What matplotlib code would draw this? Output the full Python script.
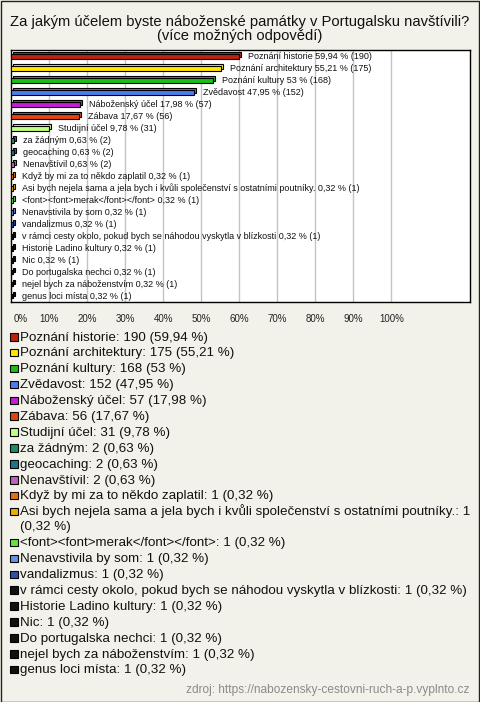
import numpy as np
import matplotlib
matplotlib.use('Agg')
from matplotlib import pyplot as plt
from matplotlib.transforms import offset_copy, ScaledTranslation

plt.rcParams['font.family'] = ['Liberation Sans', 'DejaVu Sans']

title = 'Za jakým účelem byste náboženské památky v Portugalsku navštívili?\n(více možných odpovědí)'
source = 'zdroj: https://nabozensky-cestovni-ruch-a-p.vyplnto.cz'

labels = ['Poznání historie', 'Poznání architektury', 'Poznání kultury', 'Zvědavost',
          'Náboženský účel', 'Zábava', 'Studijní účel', 'za žádným', 'geocaching',
          'Nenavštívil', 'Když by mi za to někdo zaplatil',
          'Asi bych nejela sama a jela bych i kvůli společenství s ostatními poutníky.',
          '<font><font>merak</font></font>', 'Nenavstivila by som', 'vandalizmus',
          'v rámci cesty okolo, pokud bych se náhodou vyskytla v blízkosti',
          'Historie Ladino kultury', 'Nic', 'Do portugalska nechci',
          'nejel bych za náboženstvím', 'genus loci místa']
counts = [190, 175, 168, 152, 57, 56, 31, 2, 2, 2, 1, 1, 1, 1, 1, 1, 1, 1, 1, 1, 1]
percents = [59.94, 55.21, 53, 47.95, 17.98, 17.67, 9.78, 0.63, 0.63, 0.63,
            0.32, 0.32, 0.32, 0.32, 0.32, 0.32, 0.32, 0.32, 0.32, 0.32, 0.32]
colors = ['#C0200C', '#FFE800', '#18C018', '#4C7CF0', '#C81CD8', '#E84010', '#C0FF80',
          '#189060', '#18788C', '#C060C0', '#E87010', '#E8B000', '#60E840', '#6C90E0',
          '#3050B0', '#111111', '#111111', '#111111', '#111111', '#111111', '#111111']
xticks = [0, 10, 20, 30, 40, 50, 60, 70, 80, 90, 100]


def fmt(v):
    s = ('%.2f' % v).rstrip('0').rstrip('.')
    return s.replace('.', ',')


bg = '#F3F2EA'
W, H = 480, 702
fig = plt.figure(figsize=(W / 100, H / 100), dpi=100, facecolor=bg)
fig.patches.append(plt.Rectangle((0.5 / W, 0.5 / H), 1 - 1.5 / W, 1 - 1.5 / H,
                                 transform=fig.transFigure, fill=False,
                                 edgecolor='#222222', linewidth=1))

fig.text(0.5, 1 - 29 / H, title, ha='center', va='center', fontsize=10.6,
         linespacing=1.0, color='#111111')

ax = fig.add_axes([11 / W, 1 - 302 / H, 459 / W, 252 / H])
ax.set_facecolor('white')
n = len(labels)
y = np.arange(n)
ax.set_xlim(-0.1, 120.7)
ax.set_ylim(n - 1 + 0.5, -0.56)
for t in xticks[1:]:
    ax.axvline(t, color='#C4C4C4', linewidth=1, zorder=0)

shadow = offset_copy(ax.transData, fig=fig, x=2, y=2, units='dots')
ax.barh(y, percents, height=0.4, color=colors, edgecolor='black', linewidth=0.8,
        transform=shadow, zorder=2)
ax.barh(y, percents, height=0.4, color=colors, edgecolor='black', linewidth=0.8, zorder=3)
for i in range(n):
    ax.annotate('%s %s %% (%d)' % (labels[i], fmt(percents[i]), counts[i]),
                (percents[i], y[i]), xytext=(9, 0), textcoords='offset pixels',
                va='center', ha='left', fontsize=6.5, color='#111111', zorder=4)

ax.set_yticks([])
ax.set_xticks(xticks)
ax.set_xticklabels(['%d%%' % t for t in xticks], fontsize=7, color='#222222')
ax.tick_params(axis='x', length=0, pad=9)
first = ax.get_xticklabels()[0]
first.set_transform(first.get_transform() + ScaledTranslation(9 / 100, 0, fig.dpi_scale_trans))
for s in ax.spines.values():
    s.set_color('black')
    s.set_linewidth(1)

# legend below the chart
fig.canvas.draw()
renderer = fig.canvas.get_renderer()
base = 340.5
step = 15.9
fs = 9.65
for i in range(n):
    text = '%s: %d (%s %%)' % (labels[i], counts[i], fmt(percents[i]))
    fig.patches.append(plt.Rectangle((10 / W, 1 - base / H), 7.5 / W, 7.5 / H,
                                     transform=fig.transFigure, facecolor=colors[i],
                                     edgecolor='black', linewidth=0.8))
    t = fig.text(20 / W, 1 - base / H, text, ha='left', va='baseline', fontsize=fs,
                 color='#111111')
    if t.get_window_extent(renderer).x1 > 476:
        words = text.split(' ')
        for k in range(len(words) - 1, 0, -1):
            t.set_text(' '.join(words[:k]))
            if t.get_window_extent(renderer).x1 <= 476:
                break
        base += 15
        fig.text(20 / W, 1 - base / H, ' '.join(words[k:]), ha='left', va='baseline',
                 fontsize=fs, color='#111111')
    base += step

fig.text(470 / W, 1 - 690 / H, source, ha='right', va='center', fontsize=8.6,
         color='#8A8A8A')

fig.savefig('out.png', dpi=100, facecolor=bg)
